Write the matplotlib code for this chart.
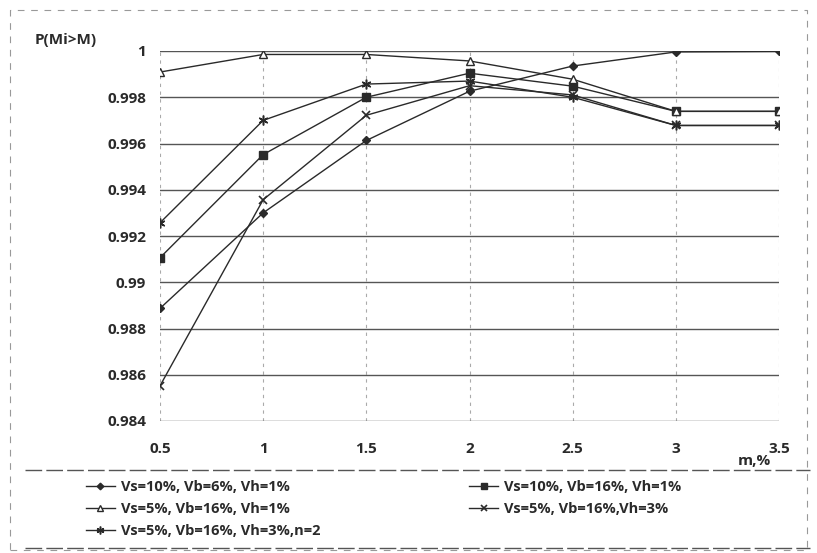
import matplotlib
matplotlib.use("Agg")
import matplotlib.pyplot as plt
from matplotlib.lines import Line2D
from matplotlib.patches import Rectangle

# data
m = [0.5, 1, 1.5, 2, 2.5, 3, 3.5]
s1 = [0.98887, 0.99300, 0.99613, 0.99826, 0.99935, 0.99996, 0.99998]
s2 = [0.99106, 0.99552, 0.99800, 0.99904, 0.99848, 0.99739, 0.99739]
s3 = [0.99909, 0.99985, 0.99985, 0.99957, 0.99878, 0.99739, 0.99739]
s4 = [0.98552, 0.99357, 0.99722, 0.99850, 0.99810, 0.99678, 0.99678]
s5 = [0.99257, 0.99700, 0.99857, 0.99870, 0.99800, 0.99678, 0.99678]
labels = ["Vs=10%, Vb=6%, Vh=1%", "Vs=10%, Vb=16%, Vh=1%",
          "Vs=5%, Vb=16%, Vh=1%", "Vs=5%, Vb=16%,Vh=3%",
          "Vs=5%, Vb=16%, Vh=3%,n=2"]
yticks = [0.984, 0.986, 0.988, 0.99, 0.992, 0.994, 0.996, 0.998, 1]
ylabels = ["0.984", "0.986", "0.988", "0.99", "0.992", "0.994", "0.996", "0.998", "1"]
xticks = [0.5, 1, 1.5, 2, 2.5, 3, 3.5]
xlabels = ["0.5", "1", "1.5", "2", "2.5", "3", "3.5"]

plt.rcParams['font.family'] = ['Open Sans', 'DejaVu Sans']
ink = '#2a2a2a'

fig = plt.figure(figsize=(8.17, 5.53), dpi=100)
ax = fig.add_axes([160/817, 1-421/553, (779-160)/817, (421-51)/553])

styles = [
    dict(marker='D', ms=4.2, mfc=ink, mec=ink),
    dict(marker='s', ms=5.2, mfc=ink, mec=ink),
    dict(marker='^', ms=6.0, mfc='white', mec=ink, mew=1.0),
    dict(marker='x', ms=6.0, mec=ink, mew=1.2),
    dict(marker=(6, 2, 0), ms=7.0, mec=ink, mew=1.1),
]
handles = []
for ys, st, lb in zip([s1, s2, s3, s4, s5], styles, labels):
    h, = ax.plot(m, ys, color=ink, lw=1.0, label=lb, **st)
    handles.append(h)

ax.set_xlim(0.5, 3.5)
ax.set_ylim(0.984, 1.0)
ax.set_xticks(xticks)
ax.set_xticklabels(xlabels)
ax.set_yticks(yticks)
ax.set_yticklabels(ylabels)
ax.tick_params(axis='y', length=0, labelsize=11, colors=ink, pad=10)
ax.tick_params(axis='x', length=0, labelsize=11, colors=ink, pad=15)
for t in ax.get_xticklabels() + ax.get_yticklabels():
    t.set_fontweight('bold')
ax.yaxis.grid(True, color='#555555', lw=1.0)
ax.xaxis.grid(True, color='#aaaaaa', lw=0.8, ls=(0, (3, 4)))
ax.set_axisbelow(True)
for sp in ax.spines.values():
    sp.set_visible(False)

fig.text(35/817, 1-40/553, "P(Mi>M)", fontsize=11, fontweight='bold',
         color=ink, va='center', ha='left')
fig.text(738/817, 1-461/553, "m,%", fontsize=11, fontweight='bold',
         color=ink, va='center', ha='left')

# legend, column-first order so the rows read as in the reference
order = [0, 2, 4, 1, 3]
leg = fig.legend([handles[i] for i in order], [labels[i] for i in order],
                 ncol=2, loc='upper left', bbox_to_anchor=(80/817, 1-474/553),
                 frameon=False, fontsize=10.5, handlelength=2.0,
                 handletextpad=0.4, columnspacing=10.2, labelspacing=0.55,
                 borderaxespad=0, markerscale=0.8)
for t in leg.get_texts():
    t.set_color(ink)
    t.set_fontweight('bold')

# frame lines around the chart and the legend
fig.add_artist(Line2D([25/817, 810/817], [1-470/553, 1-470/553], color='#555555',
                      lw=1.0, ls=(0, (12, 3))))
fig.add_artist(Line2D([25/817, 810/817], [1-548/553, 1-548/553], color='#555555',
                      lw=1.0, ls=(0, (12, 3))))
fig.add_artist(Rectangle((10/817, 3/553), 797/817, 1-13/553, fill=False,
                         ec='#999999', lw=0.8, ls=(0, (6, 6)),
                         transform=fig.transFigure))

fig.savefig("out.png", dpi=100, facecolor='white')
